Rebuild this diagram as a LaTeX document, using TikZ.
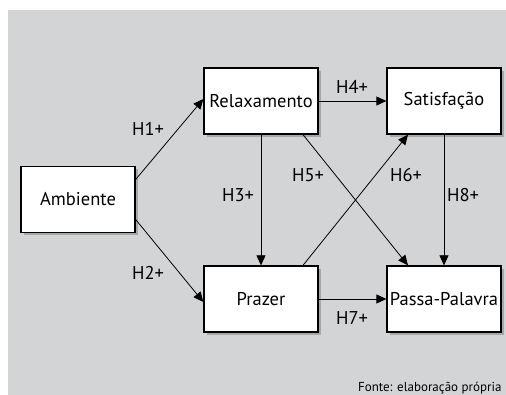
\documentclass[tikz,border=0pt]{standalone}
\usepackage{fontspec}
\setmainfont{PT Sans}
\usetikzlibrary{arrows.meta}
\definecolor{fundo}{HTML}{D3D4D6}
\definecolor{sombra}{HTML}{A6A7A9}
\begin{document}
\begin{tikzpicture}[x=1pt,y=-1pt,
  every node/.style={font=\fontsize{18.5}{21}\selectfont},
  caixa/.style={draw,line width=1.3pt,fill=white,minimum width=114pt,minimum height=66pt,inner sep=0pt},
  seta/.style={line width=0.8pt,-{Triangle[length=10pt,width=9pt]}}]
  \useasboundingbox (0,0) rectangle (506,395);
  \fill[fundo] (8,10) rectangle (506,395);
  % caixas com sombra
  \foreach \nome/\x/\y/\txt in {amb/78/199.5/Ambiente, relax/261/101/Relaxamento,
      satis/444/101/Satisfação, prazer/261/299/Prazer, passa/444/299/Passa-Palavra} {
    \fill[sombra] (\x-54,\y-30) rectangle (\x+60,\y+36);
    \node[caixa] (\nome) at (\x,\y) {\txt};
  }
  % setas
  \draw[seta] ([yshift=20pt]amb.east) -- ([yshift=2pt]relax.west);
  \draw[seta] ([yshift=-20pt]amb.east) -- ([yshift=-3pt]prazer.west);
  \draw[seta] (relax.south) -- (prazer.north);
  \draw[seta] (relax.east) -- (satis.west);
  \draw[seta] ([xshift=42pt]relax.south) -- ([xshift=-36pt]passa.north);
  \draw[seta] ([xshift=42pt]prazer.north) -- ([xshift=-36pt]satis.south);
  \draw[seta] (prazer.east) -- (passa.west);
  \draw[seta] (satis.south) -- (passa.north);
  % rotulos
  \foreach \nome/\x/\y/\txt in {h1/148/129/H1+, h2/148/273/H2+, h3/238/195/H3+, h4/352/87/H4+,
      h5/308/175/H5+, h6/406/175/H6+, h7/352/318/H7+, h8/463/195/H8+} {
    \node (\nome) at (\x,\y) {\txt};
  }
  \node[anchor=base east,font=\fontsize{13}{15}\selectfont] (fonte) at (505,391) {Fonte: elaboração própria};
\end{tikzpicture}
\end{document}
